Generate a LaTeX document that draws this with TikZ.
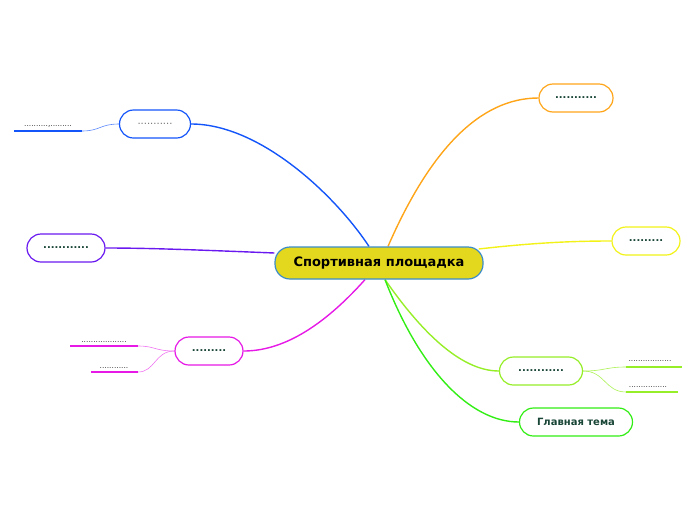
\documentclass[tikz,border=0pt]{standalone}
\usepackage{fontspec}
\setmainfont{DejaVu Sans}
\usetikzlibrary{backgrounds}
\definecolor{cblue}{RGB}{20,85,250}
\definecolor{cpurple}{RGB}{105,25,240}
\definecolor{cmagenta}{RGB}{230,25,230}
\definecolor{corange}{RGB}{255,165,25}
\definecolor{cyellow}{RGB}{242,242,25}
\definecolor{clime}{RGB}{150,238,40}
\definecolor{cgreen}{RGB}{50,238,20}
\definecolor{mainfill}{RGB}{228,216,30}
\definecolor{mainline}{RGB}{60,140,200}
\definecolor{dotgreen}{RGB}{25,70,55}
\begin{document}
\begin{tikzpicture}[x=1pt,y=-1pt,
    topic/.style={draw, line width=1.2pt, fill=white, rounded corners=14pt,
      minimum height=28pt, inner sep=0pt, text=dotgreen,
      font=\bfseries\fontsize{10}{12}\selectfont},
    subtext/.style={inner sep=0pt, text=black!80, font=\fontsize{7.5}{9}\selectfont},
    branch/.style={line width=1.4pt},
    twig/.style={line width=0.6pt},
    underline/.style={line width=2pt}]
  \useasboundingbox (0,0) rectangle (696,520);
  % central topic
  \node[draw=mainline, line width=1.2pt, fill=mainfill, rounded corners=15pt,
    minimum width=208pt, minimum height=32pt, inner sep=0pt,
    font=\bfseries\fontsize{13}{15}\selectfont] (main) at (379,263) {Спортивная площадка};
  % main topics
  \node[topic, draw=corange, minimum width=74pt] (orange) at (576,98) {...........};
  \node[topic, draw=cyellow, minimum width=68pt] (yellow) at (646,241) {.........};
  \node[topic, draw=clime, minimum width=83pt] (lime) at (541,371) {............};
  \node[topic, draw=cgreen, minimum width=113pt, font=\bfseries\fontsize{10}{12}\selectfont] (green) at (576,422) {Главная тема};
  \node[topic, draw=cblue, minimum width=71pt, text=black!55, font=\fontsize{10}{12}\selectfont] (blue) at (155,124) {...........};
  \node[topic, draw=cpurple, minimum width=78pt] (purple) at (66,248) {............};
  \node[topic, draw=cmagenta, minimum width=68pt] (magenta) at (209,351) {.........};
  % subtopics
  \coordinate (blueA) at (82,131);
  \coordinate (blueAend) at (14,131);
  \node[subtext, anchor=south] (bluesub) at (48,128) {..........,.........};
  \coordinate (magA) at (138,346);
  \coordinate (magAend) at (70,346);
  \node[subtext, anchor=south] (magsubA) at (104,343) {...................};
  \coordinate (magB) at (138,372);
  \coordinate (magBend) at (91,372);
  \node[subtext, anchor=south] (magsubB) at (114,369) {............};
  \coordinate (limeA) at (626,367);
  \coordinate (limeAend) at (682,367);
  \node[subtext, anchor=south] (limesubA) at (650,362) {..................};
  \coordinate (limeB) at (626,392);
  \coordinate (limeBend) at (678,392);
  \node[subtext, anchor=south] (limesubB) at (648,388) {................};
  \begin{pgfonlayer}{background}
    % branches from the central topic
    \draw[branch, cblue] ([xshift=-10pt]main.north) .. controls (335,195) and (260,124) .. (blue.east);
    \draw[branch, corange] ([xshift=9pt]main.north) .. controls (430,150) and (480,98) .. (orange.west);
    \draw[branch, cpurple] ([yshift=10pt]main.west) .. controls (200,250) and (150,248) .. (purple.east);
    \draw[branch, cyellow] ([xshift=-5pt,yshift=14pt]main.east) .. controls (540,242) and (580,241) .. (yellow.west);
    \draw[branch, cmagenta] ([xshift=-14pt]main.south) .. controls (320,330) and (280,351) .. (magenta.east);
    \draw[branch, clime] ([xshift=6pt]main.south) .. controls (420,330) and (460,371) .. (lime.west);
    \draw[branch, cgreen] ([xshift=6pt]main.south) .. controls (420,370) and (470,422) .. (green.west);
    % twigs to subtopics
    \draw[twig, cblue!70] (blue.west) .. controls (100,124) and (100,131) .. (blueA);
    \draw[twig, cmagenta!60] (magenta.west) .. controls (155,351) and (155,346) .. (magA);
    \draw[twig, cmagenta!60] (magenta.west) .. controls (155,351) and (155,372) .. (magB);
    \draw[twig, clime!80] (lime.east) .. controls (605,371) and (605,367) .. (limeA);
    \draw[twig, clime!80] (lime.east) .. controls (605,371) and (605,392) .. (limeB);
  \end{pgfonlayer}
  % underlines
  \draw[underline, cblue] (blueA) -- (blueAend);
  \draw[underline, cmagenta] (magA) -- (magAend);
  \draw[underline, cmagenta] (magB) -- (magBend);
  \draw[underline, clime] (limeA) -- (limeAend);
  \draw[underline, clime] (limeB) -- (limeBend);
\end{tikzpicture}
\end{document}
